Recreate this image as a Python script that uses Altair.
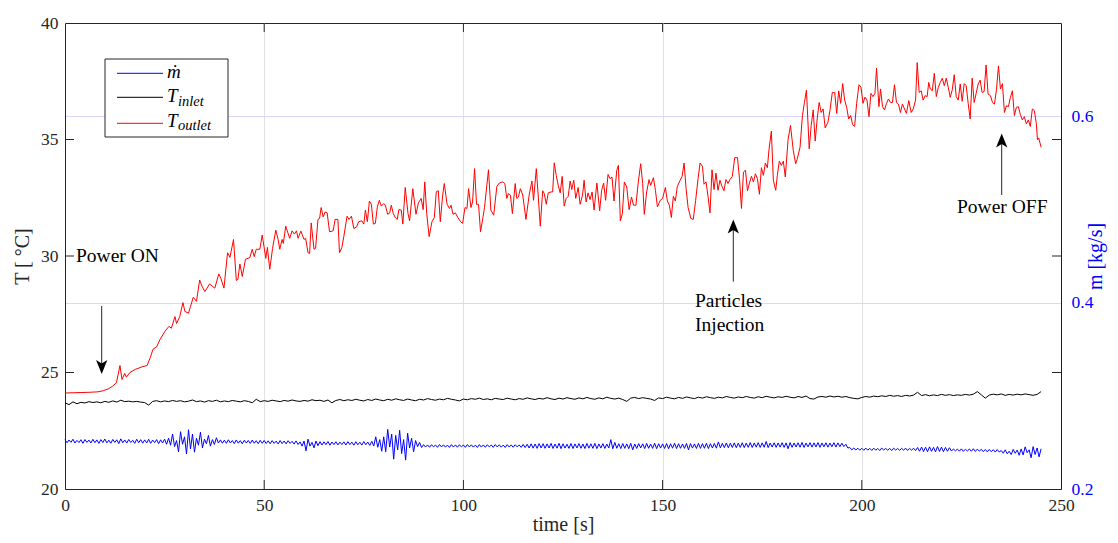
import altair as alt
import pandas as pd

# ---------------- data ----------------
t_outlet = [0.0, 2.0, 4.0, 6.0, 8.3, 9.6, 10.9, 12.0, 12.9, 13.8, 14.3, 15.0, 15.4, 16.3, 17.6, 19.3, 20.6, 21.4, 22.1, 23.0,
            23.8, 25.1, 26.1, 26.7, 27.6, 28.0, 28.8, 29.6, 30.1, 31.0, 31.5, 32.2, 33.0, 33.8, 34.4,
            35.1, 36.3, 37.6, 38.6, 39.1, 39.9, 40.8, 41.4, 42.3, 43.0, 43.4, 43.9, 44.5, 45.3, 46.4, 47.0, 47.5, 48.0, 48.9, 49.5,
            50.4, 50.8, 51.4, 52.1, 52.9, 53.5, 53.9, 54.5, 54.8, 55.4, 56.4, 57.0, 57.6, 58.1, 58.5, 59.2, 60.0, 60.4, 61.0, 61.4,
            61.8, 62.5, 62.9, 63.5, 63.9, 64.3, 64.8, 65.3, 65.8, 66.4, 67.3, 67.8, 68.5, 68.9, 69.5, 70.0,
            70.8, 71.3, 71.9, 72.5, 73.2, 73.7, 74.5, 75.0, 75.4, 75.9, 76.4, 76.9, 77.4, 77.9, 78.4, 78.9, 79.4, 80.0, 80.4, 81.0,
            81.5, 81.9, 82.4, 82.9, 83.4, 83.8, 84.4, 84.8, 85.4, 86.1, 86.5, 87.3, 88.1, 88.7, 89.4, 89.9, 90.3, 90.8, 91.4, 92.1,
            92.7, 93.2, 93.7, 94.2, 94.8, 95.2, 95.9, 96.5, 96.9, 97.4, 98.0, 98.6, 99.3, 99.8, 100.4, 100.9, 101.3, 101.9, 102.3,
            102.8, 103.3, 103.8, 104.3, 104.9,
            105.3, 106.3, 106.9, 107.6, 108.4, 109.0, 109.9, 110.4, 110.9, 111.3, 111.8, 112.3, 113.0, 113.4, 113.8, 114.3, 114.9,
            115.7, 116.5, 117.2, 117.6, 118.3, 118.8, 119.3, 119.9, 120.3, 120.8, 121.3, 122.0, 122.4, 122.8, 123.3, 123.8, 124.3,
            124.8, 125.3, 125.8, 126.3, 126.8, 127.2, 127.7, 128.2, 128.8, 129.3, 129.9, 130.3, 130.8, 131.3, 131.8, 132.3, 132.8,
            133.5, 134.2, 134.7, 135.2, 135.7, 136.3, 136.8, 137.3, 137.8, 138.5, 138.9, 139.4, 139.9,
            140.4, 141.0, 141.6, 142.2, 142.7, 143.3, 143.9, 144.5, 145.0, 145.4, 146.0, 146.6, 147.0, 147.7, 148.2, 148.7, 149.4,
            150.0, 150.7, 151.2, 151.7, 152.2, 152.7, 153.2, 153.7, 154.4, 154.9, 155.4, 155.9, 156.4, 157.1, 157.7, 158.3, 158.9,
            159.4, 160.0, 160.4, 160.9, 161.4, 161.9, 162.4, 162.9, 163.4, 163.9, 164.4, 164.9, 165.4, 165.9, 166.4, 166.9, 167.5,
            168.1, 168.8, 169.3, 169.8, 170.3, 170.8, 171.3, 171.8, 172.3, 172.8, 173.3, 173.8, 174.3, 174.8, 175.3, 175.8, 176.3,
            176.7,
            177.3, 177.8, 178.4, 178.8, 179.3, 179.8, 180.3, 180.8, 181.5, 182.1, 182.8, 183.4, 183.8, 184.5, 185.1, 185.6, 186.1,
            186.8, 187.3, 187.8, 188.3, 188.8, 189.3, 189.8, 190.3, 190.8, 191.5, 192.0, 192.6, 193.2, 193.7, 194.2, 194.7, 195.2,
            195.7, 196.2, 196.7, 197.2, 197.7, 198.2, 198.7, 199.3, 199.8, 200.3, 200.8, 201.3, 201.8, 202.3, 202.8, 203.3, 203.7,
            204.3, 204.7, 205.2, 205.7, 206.2, 206.7, 207.2, 207.7, 208.2, 208.7, 209.2, 209.7, 210.2,
            211.2, 211.8, 212.4, 212.9, 213.5, 213.9, 214.4, 214.9, 215.4, 215.9, 216.4, 216.8, 217.2, 217.7, 218.2, 218.7, 219.2,
            219.7, 220.2, 220.7, 221.2, 221.7, 222.2, 222.7, 223.2, 223.7, 224.2, 224.7, 225.2, 225.7, 226.2, 226.7, 227.2, 227.7,
            228.2, 228.7, 229.2, 229.7, 230.2, 230.7, 231.2, 231.7, 232.3, 232.8, 233.3, 233.8, 234.3, 234.8, 235.3, 235.8, 236.3,
            236.8, 237.3, 237.8, 238.3, 238.8, 239.3, 239.8, 240.3, 240.8, 241.3, 241.8, 242.3, 242.8, 243.3, 243.8, 244.1, 244.4,
            245.0]

T_outlet = [24.12, 24.13, 24.14, 24.15, 24.17, 24.22, 24.30, 24.42, 24.56, 25.30, 24.70, 24.96, 24.80, 25.00, 25.13, 25.24, 25.30, 25.64, 26.00, 26.10,
            26.40, 26.77, 26.98, 26.90, 27.40, 27.10, 27.40, 28.00, 27.62, 27.55, 27.83, 28.23, 28.05, 28.97, 28.70,
            28.47, 28.80, 28.62, 29.23, 29.05, 28.62, 30.14, 29.94, 30.71, 28.95, 29.00, 29.66, 29.12, 29.86, 29.93, 30.29, 29.97, 30.29, 30.29, 30.90,
            29.90, 30.37, 29.43, 30.33, 31.11, 30.71, 30.29, 30.71, 30.54, 31.28, 30.76, 31.08, 30.94, 31.08, 30.76, 31.07, 30.71, 30.76, 30.14, 30.11,
            31.42, 30.29, 30.33, 31.57, 31.61, 32.08, 31.68, 31.89, 31.85, 31.04, 31.08, 31.57, 31.57, 30.14, 30.37, 30.85,
            31.71, 31.57, 31.71, 31.18, 31.25, 31.47, 31.51, 31.37, 31.97, 31.47, 32.36, 32.22, 31.37, 31.40, 32.11, 32.39, 32.14, 32.25, 32.18, 31.79,
            31.85, 32.18, 31.82, 31.65, 31.57, 31.99, 31.97, 31.37, 32.94, 31.82, 31.51, 32.89, 31.79, 32.28, 32.47, 31.99, 33.18, 31.82, 30.83, 31.47,
            31.65, 32.76, 32.80, 31.47, 32.61, 33.11, 32.22, 32.04, 32.18, 31.79, 31.85, 31.65, 31.47, 31.40, 32.08, 32.04, 32.89, 32.08, 32.32,
            33.75, 32.22, 32.22, 31.04, 31.65,
            32.08, 33.70, 31.97, 31.75, 32.99, 33.13, 33.18, 33.11, 32.47, 32.68, 32.61, 31.82, 33.11, 32.47, 32.53, 32.89, 32.61,
            31.57, 32.61, 33.22, 32.39, 33.75, 32.53, 31.28, 32.80, 32.68, 32.22, 32.71, 32.75, 32.75, 34.00, 33.46, 33.03, 32.71,
            33.42, 32.14, 32.47, 32.56, 33.22, 32.85, 33.25, 32.47, 32.94, 32.22, 32.61, 33.25, 32.32, 32.71, 32.42, 32.75, 31.97,
            33.13, 31.94, 32.82, 33.13, 32.39, 33.50, 33.32, 33.39, 32.36, 33.68, 33.89, 31.51, 31.82,
            33.18, 32.96, 31.99, 32.53, 32.18, 32.18, 33.18, 33.96, 33.11, 31.79, 32.75, 33.28, 33.03, 33.36, 32.82, 32.11, 32.39,
            32.47, 32.94, 32.36, 32.18, 31.65, 32.56, 32.36, 32.99, 33.25, 33.42, 33.99, 32.89, 32.08, 31.61, 31.57, 32.39, 33.32,
            33.99, 33.85, 33.08, 33.18, 32.56, 31.85, 33.70, 32.85, 33.56, 32.82, 33.25, 32.99, 32.80, 33.28, 33.11, 33.28, 33.42,
            34.22, 34.22, 33.32, 32.04, 33.60, 33.68, 32.80, 33.13, 33.42, 33.18, 33.53, 33.32, 32.65, 33.79, 33.46, 33.99, 33.79,
            34.56,
            35.36, 33.25, 32.82, 33.46, 34.07, 33.89, 34.07, 33.39, 35.00, 35.60, 34.53, 33.96, 34.17, 34.67, 36.03, 36.59, 37.12,
            34.60, 35.60, 36.27, 34.93, 35.88, 36.59, 36.16, 36.31, 35.50, 35.74, 36.24, 37.02, 37.02, 36.12, 37.09, 36.55, 37.40,
            36.69, 36.38, 35.88, 36.03, 35.64, 35.56, 36.55, 37.35, 37.24, 36.55, 36.82, 36.69, 35.98, 36.98, 36.84, 36.98, 38.06,
            36.41, 37.17, 36.41, 36.27, 36.55, 36.74, 36.59, 36.59, 37.35, 36.59, 36.52, 36.16, 36.52,
            36.12, 36.67, 36.16, 36.31, 36.69, 38.30, 37.02, 37.09, 36.69, 36.88, 36.84, 37.45, 37.17, 37.09, 37.84, 36.84, 37.24,
            37.45, 37.63, 37.31, 37.63, 37.24, 36.81, 37.13, 37.78, 36.84, 36.69, 37.38, 36.64, 37.40, 37.31, 36.55, 35.88, 37.63,
            36.59, 36.98, 37.38, 37.55, 37.02, 37.06, 38.20, 36.95, 36.88, 36.59, 36.52, 37.13, 38.16, 37.17, 37.40, 36.16, 36.45,
            36.41, 36.81, 37.09, 36.03, 36.38, 36.41, 36.07, 35.84, 35.98, 35.67, 35.84, 35.56, 36.31, 36.24, 35.70, 34.99, 35.07,
            34.67]

# inlet temperature, one sample per second from t = 0 s
T_inlet = [23.70, 23.62, 23.74, 23.66, 23.72, 23.69, 23.75, 23.71, 23.74, 23.70,
           23.76, 23.72, 23.78, 23.73, 23.81, 23.75, 23.77, 23.74, 23.76, 23.73,
           23.71, 23.60, 23.76, 23.79, 23.74, 23.78, 23.75, 23.80, 23.76, 23.79,
           23.74, 23.77, 23.82, 23.75, 23.78, 23.73, 23.79, 23.76, 23.81, 23.74,
           23.78, 23.75, 23.80, 23.77, 23.74, 23.79, 23.76, 23.70, 23.85, 23.75,
           23.79, 23.76, 23.81, 23.78, 23.75, 23.80, 23.77, 23.82, 23.78, 23.76,
           23.80, 23.77, 23.83, 23.79, 23.81, 23.76, 23.82, 23.70, 23.80, 23.84,
           23.79, 23.83, 23.80, 23.85, 23.81, 23.78, 23.84, 23.80, 23.86, 23.82,
           23.79, 23.85, 23.81, 23.87, 23.83, 23.80, 23.86, 23.82, 23.79, 23.85,
           23.82, 23.88, 23.84, 23.81, 23.86, 23.83, 23.89, 23.85, 23.82, 23.78,
           23.86, 23.83, 23.88, 23.85, 23.90, 23.84, 23.87, 23.83, 23.89, 23.86,
           23.84, 23.90, 23.86, 23.83, 23.88, 23.85, 23.91, 23.87, 23.84, 23.89,
           23.86, 23.92, 23.87, 23.84, 23.90, 23.86, 23.92, 23.88, 23.85, 23.91,
           23.87, 23.93, 23.88, 23.85, 23.91, 23.87, 23.94, 23.89, 23.86, 23.90,
           23.84, 23.76, 23.90, 23.93, 23.88, 23.92, 23.89, 23.86, 23.80, 23.91,
           23.88, 23.94, 23.90, 23.87, 23.93, 23.89, 23.95, 23.91, 23.88, 23.94,
           23.90, 23.96, 23.92, 23.89, 23.94, 23.91, 23.97, 23.93, 23.90, 23.95,
           23.92, 23.97, 23.93, 23.90, 23.96, 23.92, 23.98, 23.94, 23.91, 23.96,
           23.93, 23.98, 23.94, 23.91, 23.97, 23.93, 23.99, 23.88, 23.86, 23.95,
           23.97, 23.94, 23.99, 23.95, 23.98, 23.94, 23.97, 23.92, 23.89, 23.87,
           23.93, 23.97, 23.94, 23.99, 23.96, 24.00, 23.97, 24.02, 23.98, 24.01,
           23.97, 24.02, 23.99, 24.03, 24.15, 24.01, 24.05, 24.00, 24.04, 24.01,
           24.06, 24.02, 24.05, 24.01, 24.04, 24.02, 24.06, 24.03, 24.07, 24.18,
           24.04, 23.90, 24.03, 24.07, 24.04, 24.08, 24.02, 24.06, 24.03, 24.07,
           24.04, 24.08, 24.05, 24.02, 24.06, 24.18]

# mass flow, one sample every 0.5 s from t = 0 s
m_flow = [0.2530, 0.2496, 0.2526, 0.2501, 0.2534, 0.2493, 0.2522, 0.2498, 0.2529, 0.2490, 0.2531, 0.2500, 0.2525, 0.2494, 0.2533, 0.2497, 0.2527, 0.2489, 0.2530, 0.2499,
          0.2536, 0.2495, 0.2524, 0.2491, 0.2532, 0.2500, 0.2528, 0.2487, 0.2538, 0.2496, 0.2526, 0.2493, 0.2531, 0.2499, 0.2523, 0.2490, 0.2534, 0.2497, 0.2529, 0.2492,
          0.2527, 0.2495, 0.2533, 0.2490, 0.2525, 0.2498, 0.2530, 0.2486, 0.2528, 0.2494, 0.2535, 0.2480, 0.2545, 0.2470, 0.2590, 0.2455, 0.2520, 0.2400, 0.2615, 0.2480,
          0.2560, 0.2375, 0.2636, 0.2430, 0.2590, 0.2395, 0.2545, 0.2470, 0.2610, 0.2440, 0.2535, 0.2485, 0.2575, 0.2460, 0.2530, 0.2478, 0.2550, 0.2494, 0.2527, 0.2491,
          0.2524, 0.2490, 0.2528, 0.2494, 0.2520, 0.2487, 0.2526, 0.2492, 0.2519, 0.2485, 0.2523, 0.2493, 0.2521, 0.2489, 0.2525, 0.2491, 0.2518, 0.2486, 0.2522, 0.2490,
          0.2521, 0.2488, 0.2517, 0.2485, 0.2519, 0.2490, 0.2514, 0.2483, 0.2520, 0.2487, 0.2515, 0.2484, 0.2518, 0.2489, 0.2512, 0.2482, 0.2516, 0.2478, 0.2505, 0.2460,
          0.2515, 0.2410, 0.2535, 0.2460, 0.2500, 0.2442, 0.2515, 0.2465, 0.2508, 0.2472, 0.2506, 0.2475, 0.2509, 0.2470, 0.2504, 0.2476, 0.2507, 0.2473, 0.2503, 0.2477,
          0.2506, 0.2472, 0.2508, 0.2476, 0.2503, 0.2470, 0.2507, 0.2474, 0.2502, 0.2471, 0.2509, 0.2475, 0.2504, 0.2468, 0.2512, 0.2462, 0.2560, 0.2448, 0.2530, 0.2405,
          0.2560, 0.2400, 0.2640, 0.2450, 0.2590, 0.2320, 0.2575, 0.2420, 0.2630, 0.2380, 0.2530, 0.2310, 0.2600, 0.2440, 0.2545, 0.2400, 0.2520, 0.2455, 0.2500, 0.2445,
          0.2476, 0.2450, 0.2473, 0.2448, 0.2475, 0.2452, 0.2472, 0.2447, 0.2477, 0.2451, 0.2474, 0.2449, 0.2471, 0.2446, 0.2476, 0.2450, 0.2473, 0.2448, 0.2475, 0.2452,
          0.2472, 0.2447, 0.2477, 0.2451, 0.2474, 0.2449, 0.2471, 0.2446, 0.2476, 0.2450, 0.2473, 0.2448, 0.2475, 0.2452, 0.2472, 0.2447, 0.2477, 0.2451, 0.2474, 0.2449,
          0.2471, 0.2446, 0.2476, 0.2450, 0.2473, 0.2448, 0.2475, 0.2452, 0.2472, 0.2447, 0.2478, 0.2445, 0.2480, 0.2440, 0.2485, 0.2438, 0.2483, 0.2436, 0.2487, 0.2440,
          0.2486, 0.2437, 0.2484, 0.2440, 0.2489, 0.2435, 0.2482, 0.2438, 0.2490, 0.2433, 0.2485, 0.2439, 0.2481, 0.2436, 0.2488, 0.2434, 0.2484, 0.2440, 0.2487, 0.2437,
          0.2483, 0.2434, 0.2489, 0.2438, 0.2485, 0.2436, 0.2490, 0.2433, 0.2484, 0.2439, 0.2487, 0.2435, 0.2482, 0.2440, 0.2530, 0.2432, 0.2500, 0.2437, 0.2486, 0.2434,
          0.2488, 0.2436, 0.2484, 0.2433, 0.2490, 0.2420, 0.2483, 0.2435, 0.2487, 0.2440, 0.2485, 0.2434, 0.2489, 0.2437, 0.2482, 0.2436, 0.2491, 0.2433, 0.2486, 0.2439,
          0.2484, 0.2435, 0.2488, 0.2432, 0.2485, 0.2438, 0.2492, 0.2434, 0.2486, 0.2437, 0.2483, 0.2436, 0.2489, 0.2420, 0.2487, 0.2439, 0.2484, 0.2435, 0.2490, 0.2436,
          0.2487, 0.2437, 0.2491, 0.2434, 0.2486, 0.2440, 0.2489, 0.2438, 0.2505, 0.2441, 0.2490, 0.2444, 0.2494, 0.2442, 0.2491, 0.2445, 0.2495, 0.2443, 0.2492, 0.2446,
          0.2496, 0.2444, 0.2493, 0.2447, 0.2498, 0.2445, 0.2494, 0.2449, 0.2497, 0.2446, 0.2495, 0.2448, 0.2510, 0.2444, 0.2493, 0.2450, 0.2496, 0.2447, 0.2494, 0.2449,
          0.2497, 0.2446, 0.2495, 0.2432, 0.2498, 0.2447, 0.2494, 0.2451, 0.2496, 0.2448, 0.2499, 0.2446, 0.2493, 0.2452, 0.2497, 0.2449, 0.2495, 0.2451, 0.2498, 0.2447,
          0.2494, 0.2452, 0.2496, 0.2449, 0.2493, 0.2453, 0.2497, 0.2450, 0.2495, 0.2454, 0.2492, 0.2455, 0.2480, 0.2440, 0.2445, 0.2420, 0.2440, 0.2418, 0.2438, 0.2416,
          0.2437, 0.2415, 0.2439, 0.2417, 0.2436, 0.2414, 0.2438, 0.2416, 0.2435, 0.2413, 0.2439, 0.2418, 0.2437, 0.2415, 0.2436, 0.2412, 0.2438, 0.2417, 0.2435, 0.2414,
          0.2437, 0.2416, 0.2439, 0.2413, 0.2436, 0.2415, 0.2438, 0.2412, 0.2445, 0.2405, 0.2450, 0.2402, 0.2448, 0.2400, 0.2452, 0.2404, 0.2447, 0.2399, 0.2455, 0.2403,
          0.2449, 0.2401, 0.2446, 0.2405, 0.2443, 0.2407, 0.2430, 0.2409, 0.2428, 0.2406, 0.2431, 0.2404, 0.2427, 0.2408, 0.2429, 0.2405, 0.2432, 0.2403, 0.2428, 0.2406,
          0.2426, 0.2401, 0.2424, 0.2398, 0.2425, 0.2400, 0.2422, 0.2396, 0.2423, 0.2397, 0.2413, 0.2384, 0.2420, 0.2378, 0.2405, 0.2370, 0.2425, 0.2383, 0.2418, 0.2362,
          0.2430, 0.2365, 0.2452, 0.2390, 0.2420, 0.2335, 0.2455, 0.2370, 0.2440, 0.2345, 0.2432]

t_inlet = [float(i) for i in range(len(T_inlet))]     # 1 s sampling
t_flow = [i * 0.5 for i in range(len(m_flow))]        # 0.5 s sampling

x_ticks = [0, 50, 100, 150, 200, 250]
T_ticks = [20, 25, 30, 35, 40]
m_ticks = [0.2, 0.4, 0.6]

# ---------------- styling ----------------
FONT = "Liberation Serif"
DARK = "#262626"
W, H = 996, 466

df_out = pd.DataFrame({"time": t_outlet, "T": T_outlet})
df_in = pd.DataFrame({"time": t_inlet, "T": T_inlet})
df_m = pd.DataFrame({"time": t_flow, "m": m_flow})
df_xt = pd.DataFrame({"time": x_ticks[1:-1]})
df_Tt = pd.DataFrame({"T": T_ticks[1:-1]})
one = pd.DataFrame({"k": [0]})

x_def = alt.X("time:Q",
              scale=alt.Scale(domain=[0, 250], nice=False, zero=False),
              axis=alt.Axis(values=x_ticks, title="time [s]", grid=True, gridColor="#e2e2e2",
                            ticks=False, labelPadding=7, titlePadding=1, labelFlush=False))
y_T = alt.Y("T:Q",
            scale=alt.Scale(domain=[20, 40], nice=False, zero=False),
            axis=alt.Axis(values=T_ticks, title="T [ °C]", grid=False, ticks=False,
                          labelPadding=7, titlePadding=8))
y_m = alt.Y("m:Q",
            scale=alt.Scale(domain=[0.2, 0.7], nice=False, zero=False),
            axis=alt.Axis(orient="right", values=m_ticks, format=".1f", title="m [kg/s]",
                          titleAngle=270, grid=True, gridColor="#d8d8ff", ticks=False,
                          labelColor="#0000ff", titleColor="#0000ff", domainColor="#0000ff",
                          labelPadding=10, titlePadding=13))

red = alt.Chart(df_out).mark_line(color="#ff0000", strokeWidth=1).encode(x=x_def, y=y_T)
black = alt.Chart(df_in).mark_line(color="#000000", strokeWidth=1).encode(x=x_def, y=y_T)
blue = alt.Chart(df_m).mark_line(color="#0000ff", strokeWidth=1).encode(x=x_def, y=y_m)

# inward tick marks (MATLAB style)
tick_l = alt.Chart(df_Tt).mark_rule(color=DARK).encode(y=y_T, x=alt.value(0), x2=alt.value(9))
tick_r = alt.Chart(df_Tt).mark_rule(color=DARK).encode(y=y_T, x=alt.value(W - 9), x2=alt.value(W))
tick_b = alt.Chart(df_xt).mark_rule(color=DARK).encode(x=x_def, y=alt.value(H - 9), y2=alt.value(H))
tick_t = alt.Chart(df_xt).mark_rule(color=DARK).encode(x=x_def, y=alt.value(0), y2=alt.value(9))


def txt(s, x, y, size=19.5, italic=False, color="#000000"):
    kw = dict(font=FONT, fontSize=size, align="left", baseline="alphabetic", color=color, text=s)
    if italic:
        kw["fontStyle"] = "italic"
    return alt.Chart(one).mark_text(**kw).encode(x=alt.value(x), y=alt.value(y))


def shaft(x, y1, y2):
    return alt.Chart(one).mark_rule(color=DARK, strokeWidth=1).encode(
        x=alt.value(x), y=alt.value(y1), y2=alt.value(y2))


DOWN = "M-0.8,-1L0,1L0.8,-1L0,-0.5Z"
UP = "M-0.8,1L0,-1L0.8,1L0,0.5Z"


def head(x, y, shape):
    return alt.Chart(one).mark_point(shape=shape, filled=True, size=200, color="#000000",
                                     opacity=1, strokeWidth=0).encode(
        x=alt.value(x), y=alt.value(y))


annotations = [
    txt("Power ON", 11, 239),
    shaft(36.7, 283, 345), head(36.7, 344, DOWN),
    txt("Particles", 630, 284),
    txt("Injection", 630, 308),
    shaft(668.3, 258.7, 205), head(668.3, 203.5, UP),
    txt("Power OFF", 892, 190),
    shaft(936.7, 172, 118), head(936.7, 117.5, UP),
]

# legend box
leg_box = alt.Chart(one).mark_rect(fill="white", stroke=DARK, strokeWidth=1).encode(
    x=alt.value(40), x2=alt.value(163), y=alt.value(36), y2=alt.value(114))


def leg_line(y, color):
    return alt.Chart(one).mark_rule(color=color, strokeWidth=1).encode(
        x=alt.value(52), x2=alt.value(98), y=alt.value(y), y2=alt.value(y))


legend = [
    leg_box,
    leg_line(50.3, "#0000ff"), leg_line(74.3, "#000000"), leg_line(100.3, "#ff0000"),
    txt("ṁ", 102, 55, size=19, italic=True),
    txt("T", 102, 79, size=19, italic=True), txt("inlet", 113, 83, size=14.5, italic=True),
    txt("T", 102, 104, size=19, italic=True), txt("outlet", 113, 107, size=14.5, italic=True),
]

left = alt.layer(red, black, tick_l, tick_r, tick_b, tick_t, *annotations, *legend)
right = alt.layer(blue)

chart = alt.layer(right, left).resolve_scale(y="independent").properties(
    width=W, height=H,
    autosize=alt.AutoSizeParams(type="none"),
    padding={"left": 57, "top": 15, "right": 49, "bottom": 46},
).configure_view(stroke=DARK, strokeWidth=1).configure_axis(
    labelFont=FONT, titleFont=FONT, labelFontSize=17.5, titleFontSize=20,
    titleFontWeight="normal", labelColor=DARK, titleColor=DARK, domainColor=DARK,
)

chart.save("out.html", embed_options={"renderer": "svg", "actions": False})
